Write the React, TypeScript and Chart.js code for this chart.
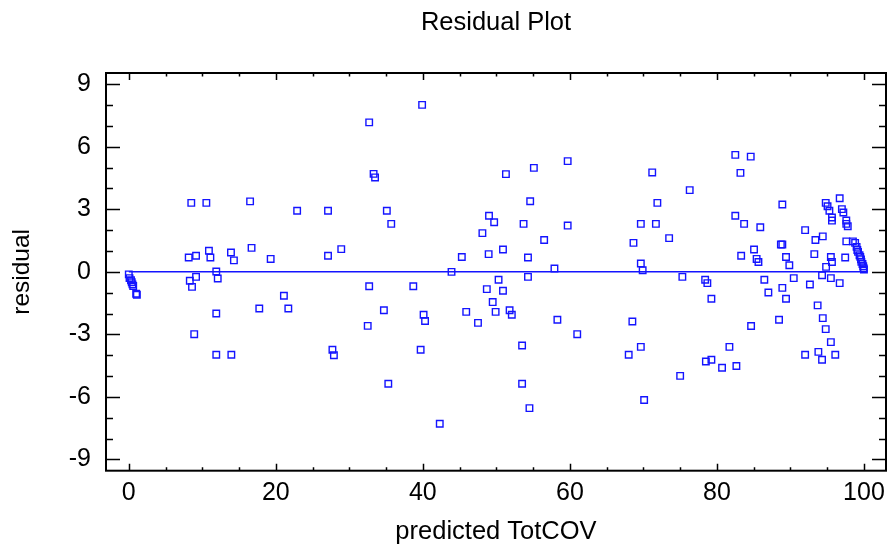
import React, { useEffect, useRef } from "react";
import { Chart, registerables } from "chart.js";

Chart.register(...registerables);

const chartTitle = "Residual Plot";
const xAxisTitle = "predicted TotCOV";
const yAxisTitle = "residual";

const xTickValues = [0, 20, 40, 60, 80, 100];
const yTickValues = [-9, -6, -3, 0, 3, 6, 9];

const predicted = [
  0, 0.1, 0.3, 0.4, 0.5, 0.6, 1.0, 1.1,
  8.15, 8.3, 8.5, 8.6, 8.9, 9.15, 9.15, 10.55, 10.9, 11.1, 11.9, 11.9, 11.9, 12.1, 13.9, 13.95, 14.3, 16.5, 16.7, 17.75, 19.3, 21.1, 21.7, 22.9,
  27.1, 27.1, 27.7, 27.9, 28.9, 32.5, 32.7, 32.7, 33.3, 33.5, 34.7, 35.1, 35.3, 35.7, 38.7, 39.7, 39.9, 40.1, 40.3, 42.3, 43.9, 45.3, 45.9, 47.5, 48.1, 48.7, 48.95, 49.0,
  49.5, 49.7, 49.9, 50.3, 50.9, 50.9, 51.3, 51.8, 52.1, 53.5, 53.5, 53.7, 54.3, 54.3, 54.5, 54.6, 55.1, 56.5, 57.9, 58.3, 59.7, 59.7, 61.0, 68.0, 68.5, 68.65, 69.65, 69.65, 69.65, 69.9, 70.1, 71.2, 71.7, 71.9, 73.5,
  75.0, 75.3, 76.3, 78.4, 78.5, 78.7, 79.25, 79.25, 80.7, 81.7, 82.5, 82.5, 82.65, 83.2, 83.3, 83.7, 84.6, 84.65, 85.05, 85.4, 85.65, 85.9, 86.45, 87.0, 88.45, 88.7, 88.9, 88.9, 88.9, 89.4, 89.4, 89.85, 90.45, 92.0, 92.0, 92.65, 93.25, 93.4, 93.7, 93.8, 94.3, 94.3, 94.4, 94.4, 94.8, 94.8, 94.85, 95.05, 95.3, 95.5, 95.5, 95.5, 95.65, 95.65, 95.65, 96.1, 96.7, 96.7, 97.0, 97.2, 97.45, 97.6, 97.6, 97.6, 97.8,
  98.5, 98.8, 99.0, 99.1, 99.2, 99.4, 99.5, 99.6, 99.65, 99.8, 99.9, 99.95, 100,
];

const residual = [
  -0.12, -0.3, -0.4, -0.5, -0.6, -0.68, -1.05, -1.1,
  0.69, -0.43, 3.31, -0.72, -2.99, 0.77, -0.24, 3.31, 1.01, 0.69, 0.02, -2.0, -3.98, -0.32, 0.93, -3.98, 0.55, 3.38, 1.15, -1.76, 0.62, -1.15, -1.76, 2.93,
  2.93, 0.77, -3.74, -4.0, 1.09, -2.59, 7.17, -0.69, 4.7, 4.53, -1.84, 2.93, -5.37, 2.3, -0.69, -3.74, 8.01, -2.06, -2.36, -7.29, 0.0, 0.71, -1.92, -2.45, 1.86, -0.83, 0.85, 2.69,
  -1.45, 2.38, -1.92, -0.38, 1.07, -0.91, 4.69, -1.84, -2.06, -3.53, -5.37, 2.3, 0.69, -0.24, -6.54, 3.39, 4.99, 1.53, 0.16, -2.3, 5.31, 2.22, -2.99, -3.98, -2.38, 1.39, 2.3, 0.4, -3.6, 0.08, -6.15, 4.77, 2.3, 3.31, 1.62,
  -4.99, -0.24, 3.92, -0.38, -4.3, -0.54, -1.29, -4.22, -4.6, -3.6, 5.61, 2.69, -4.52, 4.75, 0.77, 2.3, 5.53, -2.6, 1.07, 0.62, 0.47, 2.14, -0.38, -0.99, -2.3, 1.31, 1.31, 3.23, -0.77, 0.71, -1.29, 0.32, -0.3, 2.0, -3.98, -0.61, 0.85, 1.53, -1.61, -3.84, -0.16, -4.22, 1.7, -2.22, 3.31, -2.75, 0.24, 3.15, 2.93, 0.71, -0.3, -3.37, 2.61, 2.46, 0.47, -3.98, 3.53, -0.54, 3.01, 2.85, 0.69, 2.46, 2.3, 1.46, 2.19,
  1.46, 1.39, 1.2, 1.05, 0.96, 0.8, 0.72, 0.6, 0.48, 0.38, 0.27, 0.18, 0.11,
];

const zeroLineX = [0, 100];
const zeroLineY = [0, 0];

const BLUE = "rgb(20,20,255)";
const FONT = "'Liberation Sans', Arial, Helvetica, sans-serif";

const framePlugin = {
  id: "frameTicks",
  afterDraw(chart: any) {
    const { ctx, chartArea } = chart;
    const xs = chart.scales.x;
    const ys = chart.scales.y;
    const { left, right, top, bottom } = chartArea;
    ctx.save();
    // title centred over the axes box
    ctx.fillStyle = "#000";
    ctx.font = `25.5px ${FONT}`;
    ctx.textAlign = "center";
    ctx.textBaseline = "alphabetic";
    ctx.fillText(chartTitle, (left + right) / 2, 30);

    ctx.strokeStyle = "#000";
    ctx.lineWidth = 1.5;
    for (let v = 0; v <= 100; v += 5) {
      const px = Math.round(xs.getPixelForValue(v)) + 0.5;
      const len = v % 20 === 0 ? 7 : 3.5;
      ctx.beginPath();
      ctx.moveTo(px, bottom);
      ctx.lineTo(px, bottom - len);
      ctx.moveTo(px, top);
      ctx.lineTo(px, top + len);
      ctx.stroke();
    }
    for (let v = -9; v <= 9; v += 1) {
      const py = Math.round(ys.getPixelForValue(v)) + 0.5;
      const len = v % 3 === 0 ? 14 : 7;
      ctx.beginPath();
      ctx.moveTo(left, py);
      ctx.lineTo(left + len, py);
      ctx.moveTo(right, py);
      ctx.lineTo(right - len, py);
      ctx.stroke();
    }
    ctx.lineWidth = 2;
    ctx.strokeRect(left, top, right - left, bottom - top);
    ctx.restore();
  },
};

export default function App() {
  const ref = useRef<HTMLCanvasElement | null>(null);
  useEffect(() => {
    if (!ref.current) return;
    const points = predicted.map((x, i) => ({ x, y: residual[i] }));
    const line = zeroLineX.map((x, i) => ({ x, y: zeroLineY[i] }));
    const chart = new Chart(ref.current, {
      type: "scatter",
      data: {
        datasets: [
          {
            type: "line",
            data: line,
            borderColor: BLUE,
            borderWidth: 1.5,
            pointRadius: 0,
            fill: false,
          } as any,
          {
            data: points,
            pointStyle: "rect",
            pointRadius: 4.6,
            pointBorderWidth: 1.4,
            borderColor: BLUE,
            backgroundColor: "rgba(0,0,0,0)",
            pointBackgroundColor: "rgba(0,0,0,0)",
          } as any,
        ],
      },
      options: {
        responsive: false,
        animation: false,
        devicePixelRatio: 1,
        layout: { padding: { left: 0, right: 5, top: 73, bottom: 0 } },
        plugins: {
          legend: { display: false },
          tooltip: { enabled: false },
          title: { display: false },
        },
        scales: {
          x: {
            type: "linear",
            min: -3.1,
            max: 103,
            grid: { display: false, drawTicks: false },
            border: { display: false },
            afterBuildTicks: (scale: any) => {
              scale.ticks = xTickValues.map((v) => ({ value: v }));
            },
            afterFit: (scale: any) => {
              scale.height = 79.3;
            },
            ticks: {
              autoSkip: false,
              maxRotation: 0,
              padding: 7,
              color: "#000",
              font: { family: FONT, size: 25 },
            },
            title: {
              display: true,
              text: xAxisTitle,
              color: "#000",
              font: { family: FONT, size: 25.5 },
              padding: { top: 0, bottom: 3 },
            },
          },
          y: {
            type: "linear",
            min: -9.54,
            max: 9.54,
            grid: { display: false, drawTicks: false },
            border: { display: false },
            afterBuildTicks: (scale: any) => {
              scale.ticks = yTickValues.map((v) => ({ value: v }));
            },
            afterFit: (scale: any) => {
              scale.width = 106;
            },
            ticks: {
              autoSkip: false,
              padding: 15,
              color: "#000",
              font: { family: FONT, size: 25 },
            },
            title: {
              display: true,
              text: yAxisTitle,
              color: "#000",
              font: { family: FONT, size: 24.5 },
              padding: { top: 8, bottom: 0 },
            },
          },
        },
      },
      plugins: [framePlugin],
    });
    return () => chart.destroy();
  }, []);
  return (
    <div style={{ position: "absolute", left: 0, top: 0, width: 892, height: 550, background: "#fff" }}>
      <canvas ref={ref} width={892} height={550} style={{ display: "block" }} />
    </div>
  );
}
